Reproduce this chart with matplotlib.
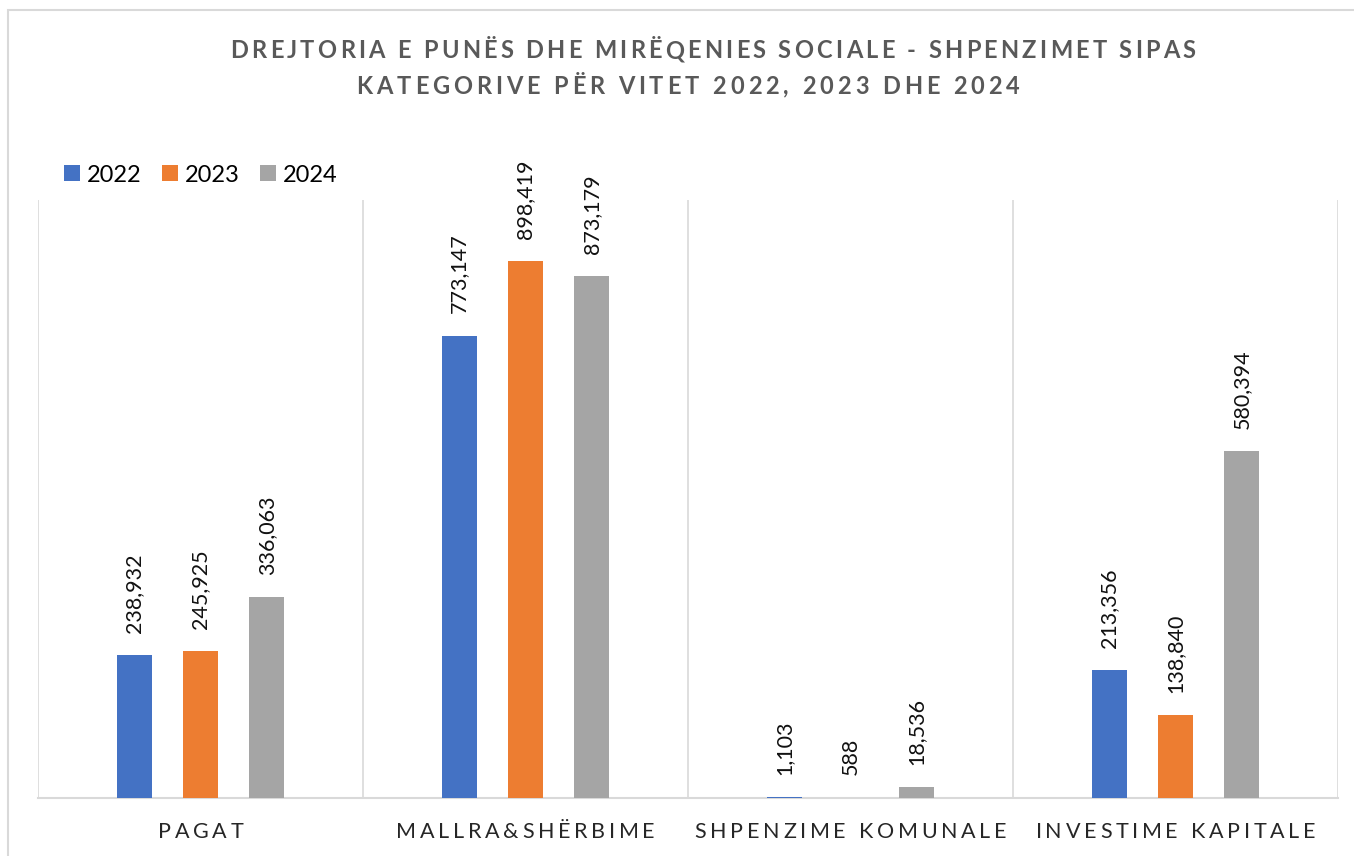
import matplotlib
matplotlib.use("Agg")
import matplotlib.pyplot as plt
import numpy as np
from matplotlib.transforms import IdentityTransform
from matplotlib.patches import Rectangle, Patch

categories = ["PAGAT", "MALLRA&SHËRBIME", "SHPENZIME KOMUNALE", "INVESTIME KAPITALE"]
years = ["2022", "2023", "2024"]
v2022 = [238932, 773147, 1103, 213356]
v2023 = [245925, 898419, 588, 138840]
v2024 = [336063, 873179, 18536, 580394]
series = [v2022, v2023, v2024]
colors = ["#4472C4", "#ED7D31", "#A5A5A5"]
title1 = "DREJTORIA E PUNËS DHE MIRËQENIES SOCIALE - SHPENZIMET SIPAS"
title2 = "KATEGORIVE PËR VITET 2022, 2023 DHE 2024"

FONT = ["Lato", "DejaVu Sans"]
W, H = 1354, 856
fig = plt.figure(figsize=(W / 100, H / 100), dpi=100)
fig.subplots_adjust(left=38 / W, right=1338 / W, bottom=1 - 798 / H, top=1 - 200 / H)
ax = fig.add_subplot(111)

x = np.arange(len(categories))
offs = [-0.204, 0.0, 0.204]
bw = 0.108
for i, (vals, c) in enumerate(zip(series, colors)):
    ax.bar(x + offs[i], vals, width=bw, color=c, zorder=3)
    for xi, v in zip(x + offs[i], vals):
        ax.annotate(f"{v:,}", (xi, v), xytext=(0, 16), textcoords="offset points",
                    rotation=90, ha="center", va="bottom", fontsize=15.5,
                    color="#111111", family=FONT)

ax.set_xlim(-0.5, len(categories) - 0.5)
ax.set_ylim(0, 1000000)
ax.set_yticks([])
ax.set_xticks([])
for b in np.arange(-0.5, len(categories), 1.0):
    ax.axvline(b, color="#d9d9d9", lw=1.2, zorder=1)
for s in ["top", "left", "right"]:
    ax.spines[s].set_visible(False)
ax.spines["bottom"].set_color("#d9d9d9")
ax.spines["bottom"].set_linewidth(1.5)

# outer chart border
fig.patches.append(Rectangle((8, -20), 1400, H - 10 + 20, transform=IdentityTransform(),
                             fill=False, edgecolor="#d9d9d9", lw=1.5))

renderer = fig.canvas.get_renderer()


def twidth(s, **kw):
    if not s:
        return 0.0
    t = fig.text(0, 0, s, transform=IdentityTransform(), **kw)
    w = t.get_window_extent(renderer).width
    t.remove()
    return w


def spaced_text(cx, y, s, sp, **kw):
    bar = twidth("|", **kw)
    pos = [twidth(s[:i] + "|", **kw) - bar if i > 0 else 0.0 for i in range(len(s))]
    total = twidth(s, **kw) + sp * (len(s) - 1)
    x0 = cx - total / 2
    for i, ch in enumerate(s):
        if ch == " ":
            continue
        fig.text(x0 + pos[i] + sp * i, y, ch, transform=IdentityTransform(),
                 ha="left", va="center", **kw)


tkw = dict(fontsize=17, fontweight="bold", color="#595959", family=FONT)
spaced_text(713, H - 51, title1, 3.3, **tkw)
spaced_text(688, H - 86, title2, 3.9, **tkw)

ckw = dict(fontsize=15.5, color="#262626", family=FONT)
for xi, cat in zip(x, categories):
    px = ax.transData.transform((xi, 0))[0]
    spaced_text(px, H - 832, cat, 3.7, **ckw)

handles = [Patch(facecolor=c, edgecolor="none") for c in colors]
fig.legend(handles, years, loc="center left", bbox_to_anchor=(64 / W, 1 - 175 / H),
           ncol=3, frameon=False, handlelength=0.68, handleheight=0.68,
           handletextpad=0.3, columnspacing=0.85, borderpad=0, borderaxespad=0,
           prop={"family": FONT, "size": 17})

fig.savefig("out.png", dpi=100)
